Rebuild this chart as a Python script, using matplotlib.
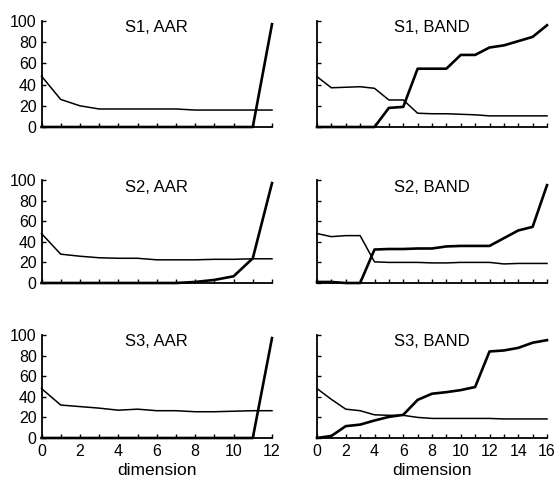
import matplotlib
matplotlib.use("Agg")
import matplotlib.pyplot as plt

plt.rcParams['font.family'] = ['Liberation Sans', 'DejaVu Sans']

# ---- data ----
aar_x = list(range(13))
band_x = list(range(17))

s1_aar_a = [48, 26, 20, 17, 17, 17, 17, 17, 16, 16, 16, 16, 16]
s1_aar_b = [0, 0, 0, 0, 0, 0, 0, 0, 0, 0, 0, 0, 97]

s2_aar_a = [48, 28, 26, 24.5, 24, 24, 22.5, 22.5, 22.5, 23, 23, 23.5, 23.5]
s2_aar_b = [0, 0, 0, 0, 0, 0, 0, 0, 1, 3, 6.5, 24, 97]

s3_aar_a = [48, 32, 30.5, 29, 27, 28, 26.5, 26.5, 25.5, 25.5, 26, 26.5, 26.5]
s3_aar_b = [0, 0, 0, 0, 0, 0, 0, 0, 0, 0, 0, 0, 97]

s1_band_a = [47.5, 37, 37.5, 38, 36.5, 25.5, 25.5, 13, 12.5, 12.5, 12, 11.5, 10.5, 10.5, 10.5, 10.5, 10.5]
s1_band_b = [0, 0, 0, 0, 0, 18, 19, 55, 55, 55, 68, 68, 75, 77, 81, 85, 96]

s2_band_a = [48, 45, 46, 46, 20.5, 20, 20, 20, 19.5, 19.5, 20, 20, 20, 18.5, 19, 19, 19]
s2_band_b = [1, 1, 0, 0, 32.5, 33, 33, 33.5, 33.5, 35.5, 36, 36, 36, 43.5, 51, 54.5, 95]

s3_band_a = [48, 37.5, 28, 26.5, 22.5, 22, 22, 20, 19, 19, 19, 19, 19, 18.5, 18.5, 18.5, 18.5]
s3_band_b = [0, 2, 11.5, 13, 17, 20.5, 22.5, 37, 43, 44.5, 46.5, 49.5, 84, 85, 87.5, 92.5, 95]

titles = ["S1, AAR", "S1, BAND", "S2, AAR", "S2, BAND", "S3, AAR", "S3, BAND"]
y_ticks = [0, 20, 40, 60, 80, 100]

panels = [
    (aar_x, s1_aar_a, s1_aar_b),
    (band_x, s1_band_a, s1_band_b),
    (aar_x, s2_aar_a, s2_aar_b),
    (band_x, s2_band_a, s2_band_b),
    (aar_x, s3_aar_a, s3_aar_b),
    (band_x, s3_band_a, s3_band_b),
]

W, H = 556, 482
fig = plt.figure(figsize=(W / 100, H / 100), dpi=100)

col_px = [(41.5, 272.0), (317.0, 547.0)]
row_px = [(21.0, 127.0), (180.0, 283.0), (335.0, 438.0)]

for i, (xs, ya, yb) in enumerate(panels):
    r, c = divmod(i, 2)
    x0, x1 = col_px[c]
    y0, y1 = row_px[r]
    ax = fig.add_axes([x0 / W, 1 - y1 / H, (x1 - x0) / W, (y1 - y0) / H])
    ax.plot(xs, ya, color='black', lw=1.1, clip_on=False)
    ax.plot(xs, yb, color='black', lw=1.9, clip_on=False)
    xmax = xs[-1]
    ax.set_xlim(0, xmax)
    ax.set_ylim(0, 100)
    ax.set_xticks(range(0, xmax + 1))
    ax.set_xticklabels([str(v) if (r == 2 and v % 2 == 0) else "" for v in range(0, xmax + 1)])
    ax.set_yticks(y_ticks)
    if c == 0:
        ax.set_yticklabels([str(v) for v in y_ticks])
    else:
        ax.set_yticklabels([])
    for s in ['top', 'right']:
        ax.spines[s].set_visible(False)
    for s in ['left', 'bottom']:
        ax.spines[s].set_linewidth(1.3)
    ax.tick_params(direction='in', length=3, width=1.0, labelsize=11.5, pad=4.5,
                   colors='black')
    ax.tick_params(axis='y', pad=3.5)
    ax.text(0.5, 1 - 7.0 / (y1 - y0), titles[i], transform=ax.transAxes,
            ha='center', va='center', fontsize=12)
    if r == 2:
        ax.set_xlabel("dimension", fontsize=12.5, labelpad=3)

fig.savefig("out.png", dpi=100)
